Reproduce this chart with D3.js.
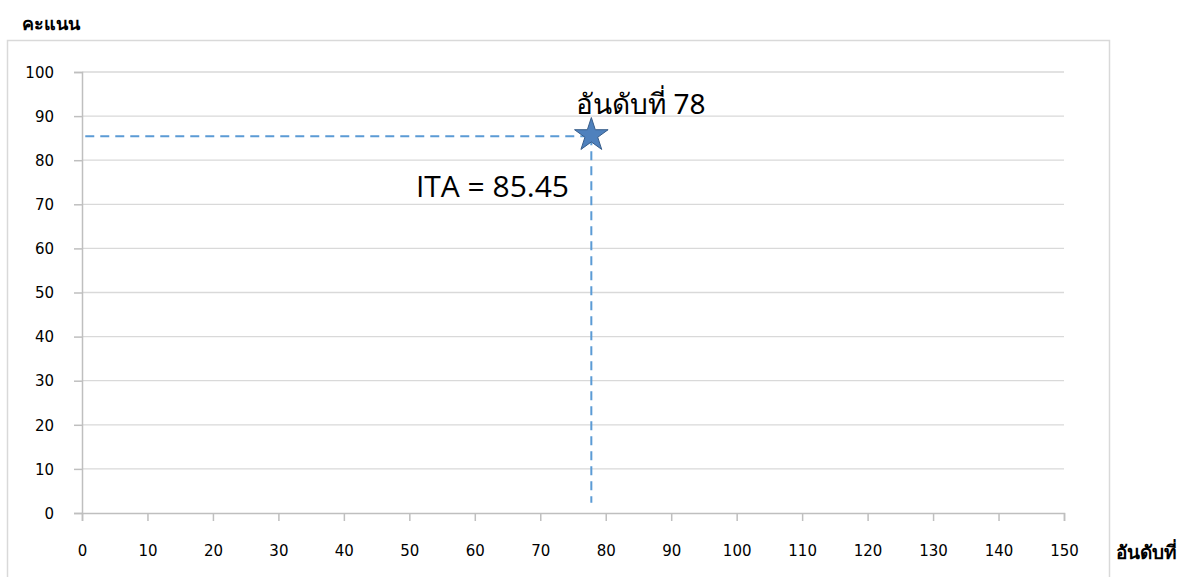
<!DOCTYPE html>
<html>
<head>
<meta charset="utf-8">
<script src="https://cdn.jsdelivr.net/npm/d3@7"></script>
<style>
  body { margin: 0; background: #fff; }
  svg { display: block; font-family: "DejaVu Sans", "Noto Sans", sans-serif; }
</style>
</head>
<body>
<svg width="1192" height="577"></svg>
<script>
const xTicks = [0, 10, 20, 30, 40, 50, 60, 70, 80, 90, 100, 110, 120, 130, 140, 150];
const yTicks = [0, 10, 20, 30, 40, 50, 60, 70, 80, 90, 100];
const rank = 77.8;
const score = 85.45;
const hLineFrom = 0.5;
const vLineTo = 2.3;
const rankLabel = "อันดับที่ 78";
const scoreLabel = "ITA = 85.45";

const svg = d3.select("svg");
const x = d3.scaleLinear().domain([0, 150]).range([82, 1064]);
const y = d3.scaleLinear().domain([0, 100]).range([513, 72]);

// chart frame
svg.append("rect")
    .attr("x", 7.5).attr("y", 40.5)
    .attr("width", 1102).attr("height", 560)
    .attr("fill", "none").attr("stroke", "#d9d9d9").attr("stroke-width", 1.5);

// gridlines
svg.append("g").selectAll("line")
    .data(yTicks.filter(d => d > 0))
    .enter().append("line")
    .attr("x1", x(0)).attr("x2", x(150))
    .attr("y1", d => y(d)).attr("y2", d => y(d))
    .attr("stroke", "#d9d9d9").attr("stroke-width", 1.3);

const yAxis = svg.append("g")
    .attr("transform", `translate(${x(0)},0)`)
    .call(d3.axisLeft(y).tickValues(yTicks).tickSize(8).tickPadding(20));
const xAxis = svg.append("g")
    .attr("transform", `translate(0,${y(0)})`)
    .call(d3.axisBottom(x).tickValues(xTicks).tickSize(8).tickPadding(24));

[yAxis, xAxis].forEach(a => {
    a.select(".domain").attr("stroke", "#bfbfbf").attr("stroke-width", 1.5);
    a.selectAll(".tick line").attr("stroke", "#bfbfbf").attr("stroke-width", 1.5);
    a.selectAll("text").attr("fill", "#000").style("font-size", "15px")
        .style("font-family", "'DejaVu Sans', sans-serif");
});
yAxis.selectAll("text").attr("dy", "0.35em");

// dashed guides
const dash = "9,6";
svg.append("line")
    .attr("x1", x(hLineFrom)).attr("x2", x(rank))
    .attr("y1", y(score)).attr("y2", y(score))
    .attr("stroke", "#5b9bd5").attr("stroke-width", 2).attr("stroke-dasharray", dash);
svg.append("line")
    .attr("x1", x(rank)).attr("x2", x(rank))
    .attr("y1", y(score)).attr("y2", y(vLineTo))
    .attr("stroke", "#5b9bd5").attr("stroke-width", 2).attr("stroke-dasharray", dash);

// star marker
svg.append("path")
    .attr("d", d3.symbol().type(d3.symbolStar).size(350))
    .attr("transform", `translate(${x(rank)},${y(score) - 1})`)
    .attr("fill", "#4f81bd").attr("stroke", "#385d8a").attr("stroke-width", 1);

// labels
svg.append("text")
    .attr("x", x(rank) - 15).attr("y", 114)
    .style("font-size", "28px")
    .style("font-family", "'Noto Sans', 'DejaVu Sans', sans-serif")
    .text(rankLabel);
svg.append("text")
    .attr("x", 569).attr("y", 197)
    .attr("text-anchor", "end")
    .style("font-size", "30px")
    .style("font-family", "'Open Sans', 'Noto Sans', sans-serif")
    .text(scoreLabel);

svg.append("text")
    .attr("x", 22).attr("y", 30)
    .style("font-size", "18px").style("font-weight", "bold")
    .style("font-family", "'Noto Sans', sans-serif")
    .text("คะแนน");
svg.append("text")
    .attr("x", 1116).attr("y", 559)
    .style("font-size", "19px").style("font-weight", "bold")
    .style("font-family", "'Noto Sans', sans-serif")
    .text("อันดับที่");
</script>
</body>
</html>
